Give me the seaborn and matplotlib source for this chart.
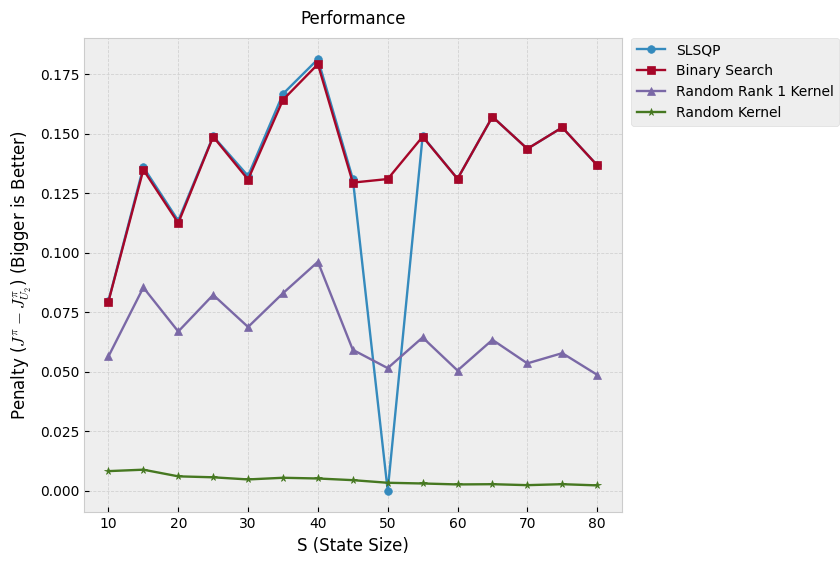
import matplotlib
matplotlib.use("Agg")
import matplotlib.pyplot as plt
import seaborn as sns
import pandas as pd

state_sizes = [10, 15, 20, 25, 30, 35, 40, 45, 50, 55, 60, 65, 70, 75, 80]

slsqp = [0.0797, 0.1360, 0.1135, 0.1490, 0.1323, 0.1668, 0.1814, 0.1311,
         0.0000, 0.1490, 0.1311, 0.1572, 0.1437, 0.1527, 0.1368]
binary_search = [0.0795, 0.1349, 0.1125, 0.1488, 0.1308, 0.1643, 0.1793, 0.1295,
                 0.1310, 0.1488, 0.1311, 0.1572, 0.1437, 0.1527, 0.1368]
random_rank1 = [0.0564, 0.0854, 0.0669, 0.0823, 0.0688, 0.0830, 0.0962, 0.0592,
                0.0515, 0.0644, 0.0505, 0.0634, 0.0535, 0.0578, 0.0487]
random_kernel = [0.0082, 0.0088, 0.0060, 0.0056, 0.0047, 0.0054, 0.0051, 0.0044,
                 0.0033, 0.0030, 0.0026, 0.0027, 0.0023, 0.0027, 0.0022]

series_names = ["SLSQP", "Binary Search", "Random Rank 1 Kernel", "Random Kernel"]
series_values = [slsqp, binary_search, random_rank1, random_kernel]
series_markers = ["o", "s", "^", "*"]
series_colors = ["#348ABD", "#A60628", "#7A68A6", "#467821"]

plt.style.use("bmh")
plt.rcParams["font.family"] = ["DejaVu Sans"]

fig = plt.figure(figsize=(8.4, 5.61), dpi=100)
ax = fig.add_axes([0.1, 0.087, 0.64, 0.846])

for name, vals, mk, col in zip(series_names, series_values, series_markers, series_colors):
    df = pd.DataFrame({"S": state_sizes, "penalty": vals})
    sns.lineplot(data=df, x="S", y="penalty", ax=ax, label=name, color=col,
                 marker=mk, markersize=5.5, markeredgewidth=0.5,
                 markeredgecolor=col, linewidth=1.7)

ax.set_facecolor("#eeeeee")
for sp in ax.spines.values():
    sp.set_color("#cccccc")
ax.grid(True, color="#d2d2d2", linestyle="--", linewidth=0.6)
ax.set_xticks([10, 20, 30, 40, 50, 60, 70, 80])
ax.set_yticks([0.0, 0.025, 0.05, 0.075, 0.1, 0.125, 0.15, 0.175])
ax.tick_params(labelsize=10)
ax.set_xlabel("S (State Size)", fontsize=12)
ax.set_ylabel(r"Penalty ($J^{\pi} - J^{\pi}_{U_2}$) (Bigger is Better)", fontsize=12)
ax.set_title("Performance", fontsize=12, pad=10)
ax.legend(loc="upper left", bbox_to_anchor=(1.018, 1.0), fontsize=10,
          facecolor="#eeeeee", edgecolor="#dddddd", framealpha=1.0,
          borderaxespad=0.0)

fig.savefig("out.png", dpi=100)
